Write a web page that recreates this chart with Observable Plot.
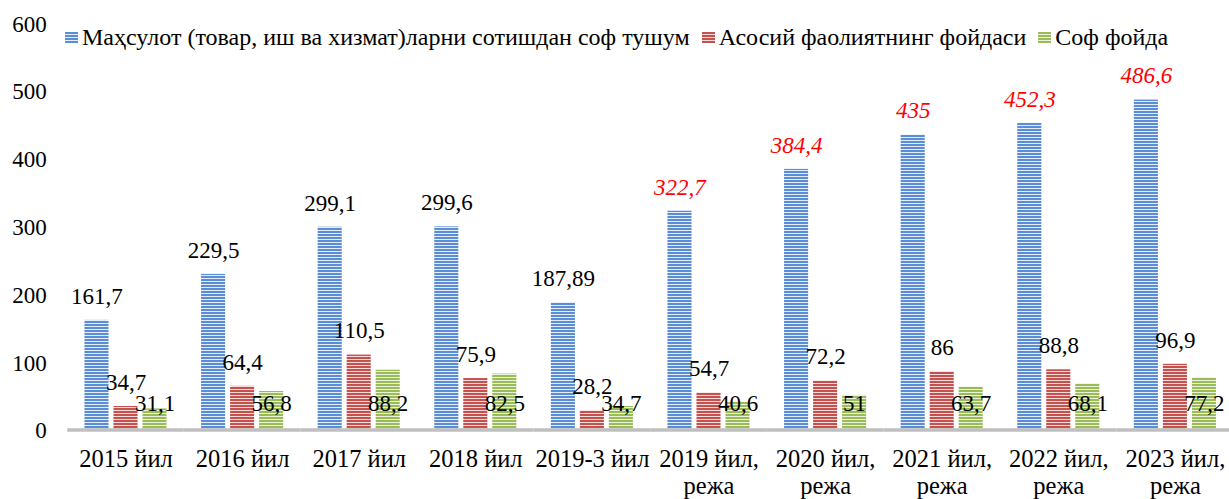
<!DOCTYPE html>
<html>
<head>
<meta charset="utf-8">
<script src="https://cdn.jsdelivr.net/npm/d3@7"></script>
<script src="https://cdn.jsdelivr.net/npm/@observablehq/plot@0.6"></script>
<style>
  html, body { margin: 0; padding: 0; background: #fff; }
  #wrap { position: relative; width: 1229px; height: 499px; font-family: 'Liberation Serif', 'Times New Roman', serif; }
  #legend { position: absolute; left: 65px; top: 24px; display: flex; align-items: center; font-size: 24px; color: #000; white-space: nowrap; }
  .sw { display: inline-block; width: 13px; height: 11px; margin-right: 4px; }
  .item { display: flex; align-items: center; margin-right: 12px; }
</style>
</head>
<body>
<div id="wrap"><div id="legend"></div></div>
<script>
const categories = ["2015 йил","2016 йил","2017 йил","2018 йил","2019-3 йил","2019 йил,\nрежа","2020 йил,\nрежа","2021 йил,\nрежа","2022 йил,\nрежа","2023 йил,\nрежа"];
const seriesNames = ["Маҳсулот (товар, иш ва хизмат)ларни сотишдан соф тушум", "Асосий фаолиятнинг фойдаси", "Соф фойда"];
const revenue = [161.7, 229.5, 299.1, 299.6, 187.89, 322.7, 384.4, 435, 452.3, 486.6];
const operatingProfit = [34.7, 64.4, 110.5, 75.9, 28.2, 54.7, 72.2, 86, 88.8, 96.9];
const netProfit = [31.1, 56.8, 88.2, 82.5, 34.7, 40.6, 51, 63.7, 68.1, 77.2];
const planFlags = [false, false, false, false, false, true, true, true, true, true];
const yTicks = [0, 100, 200, 300, 400, 500, 600];

const colors = [["pb", "#5a8dd6", "#e4edf9"], ["pr", "#c4514e", "#f4dcdb"], ["pg", "#9bbb59", "#ecf3dc"]];

const fmt = v => String(v).replace(".", ",");
const seriesValues = [revenue, operatingProfit, netProfit];
const data = [];
categories.forEach((c, i) => {
  seriesNames.forEach((s, j) => data.push({cat: c, series: s, value: seriesValues[j][i], plan: planFlags[i], idx: j}));
});
const blueActual = data.filter(d => d.idx === 0 && !d.plan);
const bluePlan = data.filter(d => d.idx === 0 && d.plan);
const red = data.filter(d => d.idx === 1);
const green = data.filter(d => d.idx === 2);

const font = "'Liberation Serif', 'Times New Roman', serif";
const chart = Plot.plot({
  width: 1229,
  height: 499,
  marginLeft: 68,
  marginRight: 0,
  marginTop: 22.7,
  marginBottom: 69.5,
  style: {fontFamily: font, fontSize: "23px", color: "#000", background: "transparent"},
  fx: {domain: categories, range: [67.2, 1233.2], paddingInner: 0, paddingOuter: 0, round: false, label: null},
  x: {domain: seriesNames, paddingInner: 0.17, paddingOuter: 0.595, round: false, axis: null},
  y: {domain: [0, 600], axis: null},
  color: {domain: seriesNames, range: colors.map(c => `url(#${c[0]})`)},
  marks: [
    Plot.barY(data, {fx: "cat", x: "series", y: "value", fill: "series"}),
    Plot.ruleY([0], {stroke: "#bfbfbf", strokeWidth: 3.5}),
    Plot.axisY({ticks: yTicks, tickSize: 0, tickPadding: 21, label: null, fontSize: 23, dy: 1, tickFormat: d => String(d)}),
    Plot.axisFx({anchor: "bottom", tickSize: 0, tickPadding: 18, label: null, fontSize: 24.5, lineHeight: 1.1}),
    Plot.text(blueActual, {fx: "cat", x: "series", y: "value", text: d => fmt(d.value), dy: -24, fontSize: 23, fill: "#000"}),
    Plot.text(bluePlan, {fx: "cat", x: "series", y: "value", text: d => fmt(d.value), dy: -24, fontSize: 23, fill: "#ff0000", fontStyle: "italic"}),
    Plot.text(red, {fx: "cat", x: "series", y: "value", text: d => fmt(d.value), dy: -24, fontSize: 23, fill: "#000"}),
    Plot.text(green, {fx: "cat", x: "series", y: 0, text: d => fmt(d.value), dy: -26, fontSize: 23, fill: "#000"})
  ]
});

// stripe patterns
const svg = d3.select(chart);
const defs = svg.insert("defs", ":first-child");
colors.forEach(([id, c, light]) => {
  const p = defs.append("pattern").attr("id", id).attr("patternUnits", "userSpaceOnUse").attr("width", 6).attr("height", 3);
  p.append("rect").attr("width", 6).attr("height", 3).attr("fill", light);
  p.append("rect").attr("width", 6).attr("height", 2).attr("fill", c);
});
document.getElementById("wrap").appendChild(chart);

// legend
const legend = document.getElementById("legend");
seriesNames.forEach((s, j) => {
  const it = document.createElement("div");
  it.className = "item";
  const sw = document.createElement("span");
  sw.className = "sw";
  sw.style.background = `repeating-linear-gradient(to bottom, ${colors[j][1]} 0px, ${colors[j][1]} 2px, ${colors[j][2]} 2px, ${colors[j][2]} 3px)`;
  const t = document.createElement("span");
  t.textContent = s;
  it.appendChild(sw); it.appendChild(t);
  legend.appendChild(it);
});
</script>
</body>
</html>
